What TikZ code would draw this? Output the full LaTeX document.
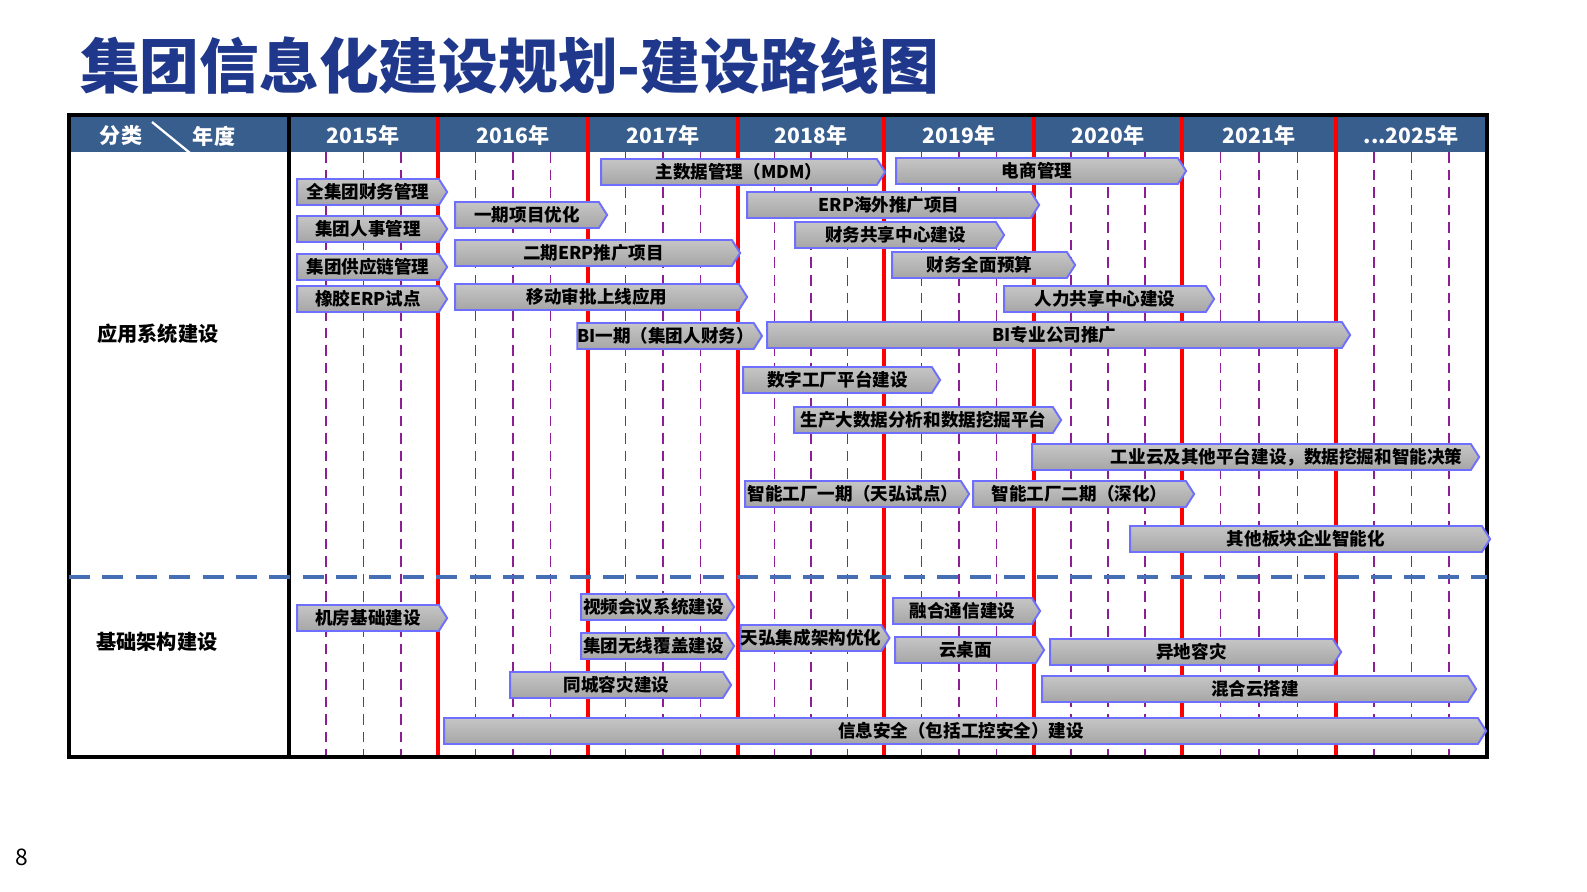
\documentclass[tikz,border=0pt]{standalone}
\usepackage{fontspec}
\setmainfont{Noto Sans CJK SC}
\usetikzlibrary{shapes.symbols}
\definecolor{hdr}{RGB}{56,94,142}
\definecolor{ttl}{RGB}{31,56,140}
\definecolor{arrb}{RGB}{110,110,255}
\definecolor{purp}{RGB}{140,30,150}
\definecolor{sep}{RGB}{70,110,180}
\tikzset{
  bar/.style={signal, signal to=east, signal pointer angle=115, draw=arrb, line width=1.1pt,
    shading=axis, top color=gray!45, middle color=white, bottom color=gray!70, shading angle=0,
    inner sep=0pt, minimum height=26*0.02cm, font=\bfseries\fontsize{10}{10}\selectfont, text=black},
  yr/.style={text=white, font=\bfseries\fontsize{12}{12}\selectfont},
  cat/.style={font=\bfseries\fontsize{11.5}{12}\selectfont}
}
\newcommand{\bararr}[5]{\node[bar, minimum width={(#2-#1)*0.02cm}] (#5) at ({(#1+#2)/2},#3) {#4};}
\begin{document}
\begin{tikzpicture}[x=0.02cm,y=-0.02cm]
\useasboundingbox (0,0) rectangle (1587,892);
\node[anchor=west, text=ttl, font=\bfseries\fontsize{34}{34}\selectfont] (title) at (74,66) {集团信息化建设规划-建设路线图};
\node[font=\fontsize{13}{13}\selectfont] (pg) at (22,857) {8};
% header
\fill[hdr] (69,115) rectangle (1487,152);
\draw[white, line width=1.3pt] (152,122) -- (190,153);
\node[yr] (c1) at (121,136) {分类};
\node[yr] (c2) at (214,136) {年度};
\foreach \yy/\x in {2015/363,2016/513,2017/663,2018/811,2019/959,2020/1108,2021/1259}
  \node[yr] (y\yy) at (\x,135) {{\yy}年};
\node[yr] (y2025) at (1411,135) {...2025年};
% dashed quarter lines
\foreach \a/\b in {289/438,438/588,588/738,738/884,884/1034,1034/1182,1182/1336,1336/1487}{
  \foreach \k in {1,2,3}
    \draw[purp, line width=0.9pt, dash pattern=on 6pt off 4pt] ({\a+(\b-\a)*\k/4},152) -- ({\a+(\b-\a)*\k/4},757);
}
\foreach \x in {438,588,738,884,1034,1182,1336}
  \draw[red, line width=1.8pt] (\x,115) -- (\x,757);
\draw[black, line width=2.5pt] (289,115) -- (289,757);
\draw[black, line width=2.5pt] (69,115) rectangle (1487,757);
\draw[sep, line width=2.2pt, dash pattern=on 12pt off 7pt] (69,577) -- (1487,577);
\node[cat] (app) at (158,334) {应用系统建设};
\node[cat] (inf) at (157,642) {基础架构建设};
% bars
\bararr{597}{881}{172}{主数据管理（MDM）}{b1}
\bararr{892}{1182}{171}{电商管理}{b2}
\bararr{293}{443}{192}{全集团财务管理}{b3}
\bararr{451}{603}{215}{一期项目优化}{b4}
\bararr{743}{1035}{205}{ERP海外推广项目}{b5}
\bararr{293}{443}{229}{集团人事管理}{b6}
\bararr{791}{1000}{235}{财务共享中心建设}{b7}
\bararr{451}{736}{253}{二期ERP推广项目}{b8}
\bararr{293}{443}{267}{集团供应链管理}{b9}
\bararr{888}{1071}{265}{财务全面预算}{b10}
\bararr{293}{443}{299}{橡胶ERP试点}{b11}
\bararr{451}{743}{297}{移动审批上线应用}{b12}
\bararr{1000}{1210}{299}{人力共享中心建设}{b13}
\bararr{576}{755}{336}{BI一期（集团人财务）}{b14}
\bararr{763}{1346}{335}{BI专业公司推广}{b15}
\bararr{739}{936}{380}{数字工厂平台建设}{b16}
\bararr{790}{1057}{420}{生产大数据分析和数据挖掘平台}{b17}
\bararr{1028}{1475}{457}{\hspace{4em}工业云及其他平台建设，数据挖掘和智能决策}{b18}
\bararr{741}{965}{494}{智能工厂一期（天弘试点）}{b19}
\bararr{969}{1190}{494}{智能工厂二期（深化）}{b20}
\bararr{1126}{1486}{539}{其他板块企业智能化}{b21}
\bararr{577}{730}{607}{视频会议系统建设}{b22}
\bararr{293}{443}{618}{机房基础建设}{b23}
\bararr{889}{1036}{611}{融合通信建设}{b24}
\bararr{741}{881}{638}{天弘集成架构优化}{b25}
\bararr{577}{730}{646}{集团无线覆盖建设}{b26}
\bararr{891}{1040}{650}{云桌面}{b27}
\bararr{1046}{1337}{652}{异地容灾}{b28}
\bararr{506}{727}{685}{同城容灾建设}{b29}
\bararr{1038}{1472}{689}{混合云搭建}{b30}
\bararr{440}{1482}{731}{信息安全（包括工控安全）建设}{b31}
\end{tikzpicture}
\end{document}
